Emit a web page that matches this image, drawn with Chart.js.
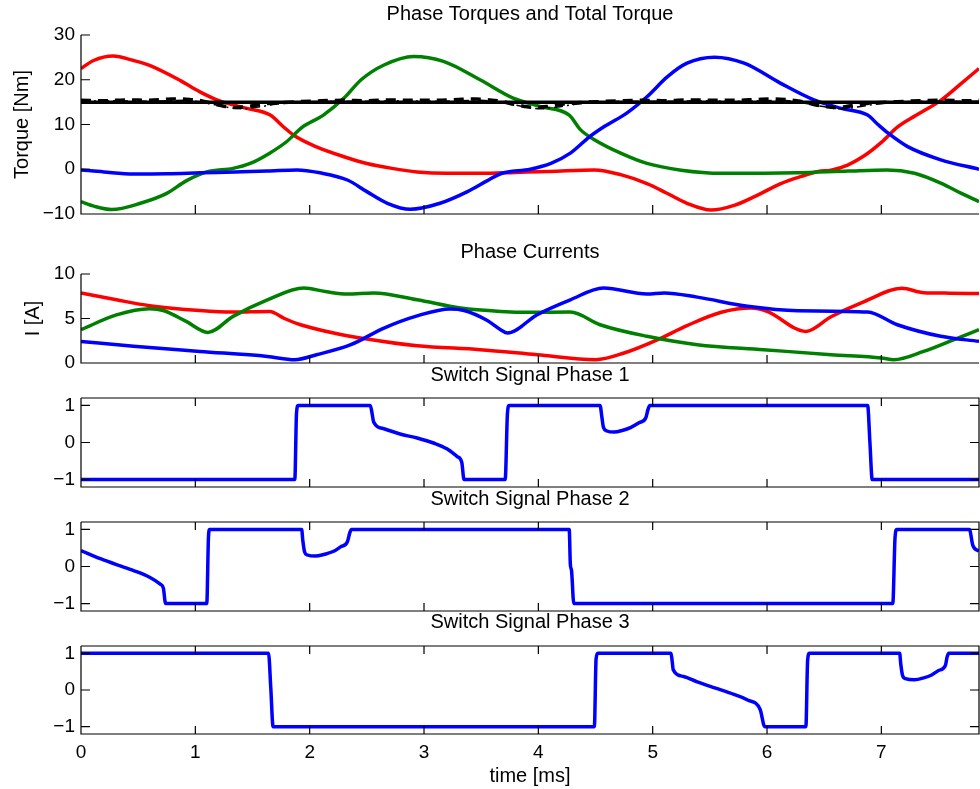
<!DOCTYPE html>
<html>
<head>
<meta charset="utf-8">
<title>Phase Torques, Currents and Switch Signals</title>
<script src="https://cdn.jsdelivr.net/npm/chart.js@4.4.1/dist/chart.umd.min.js"></script>
<style>
  html, body { margin: 0; padding: 0; background: #fff; }
  #fig { position: relative; width: 980px; height: 789px; background: #fff; overflow: hidden; }
  #fig canvas { position: absolute; left: 0; }
</style>
</head>
<body>
<div id="fig">
  <canvas id="cTorque"></canvas>
  <canvas id="cCurrent"></canvas>
  <canvas id="cSw1"></canvas>
  <canvas id="cSw2"></canvas>
  <canvas id="cSw3"></canvas>
</div>
<script>
// ---- time axis ----
const tMax = 7.854;
const xTicks = [0, 1, 2, 3, 4, 5, 6, 7];
const torqueTicks = [-10, 0, 10, 20, 30];
const currentTicks = [0, 5, 10];
const switchTicks = [-1, 0, 1];

// ---- phase torques [Nm] ----
const torqueRedT = [0, 0.11, 0.28, 0.46, 0.6, 0.87, 1.04, 1.2, 1.45, 1.655, 1.77, 1.86, 2.06, 2.30, 2.50, 2.72, 2.94, 3.2, 3.5, 3.8, 4.1, 4.49, 4.72, 4.95, 5.12, 5.30, 5.51, 5.72, 5.90, 6.12, 6.30, 6.45, 6.56, 6.71, 6.85, 7.0, 7.14, 7.30, 7.52, 7.70, 7.854];
const torqueRed  = [22.5, 24.3, 25.3, 24.3, 23.2, 19.8, 17.3, 15.4, 13.6, 12.1, 9.5, 7.6, 5.0, 2.8, 1.3, 0.2, -0.6, -0.9, -0.9, -0.7, -0.5, -0.15, -1.2, -3.2, -5.3, -7.6, -9.1, -8.0, -6.0, -3.2, -1.6, -0.5, -0.2, 1.0, 3.0, 6.0, 9.4, 12.0, 15.4, 19.2, 22.5];

const torqueGreenT = [0, 0.12, 0.27, 0.52, 0.75, 0.92, 1.1, 1.33, 1.48, 1.65, 1.8, 1.93, 2.12, 2.30, 2.45, 2.65, 2.91, 3.17, 3.49, 3.78, 4.02, 4.27, 4.37, 4.49, 4.72, 4.95, 5.25, 5.6, 5.98, 6.27, 6.71, 7.05, 7.29, 7.52, 7.70, 7.854];
const torqueGreen  = [-7.25, -8.3, -9.0, -7.6, -5.4, -2.6, -0.6, 0.2, 1.3, 3.6, 6.2, 9.3, 12.1, 15.9, 20.0, 23.3, 25.2, 24.1, 20.0, 15.9, 14.0, 12.1, 8.8, 6.6, 3.6, 1.3, -0.2, -0.9, -0.9, -0.8, -0.4, -0.15, -0.9, -3.1, -5.4, -7.25];

const torqueBlueT = [0, 0.2, 0.46, 0.75, 1.04, 1.35, 1.63, 1.89, 2.09, 2.33, 2.50, 2.68, 2.88, 3.14, 3.38, 3.55, 3.67, 3.93, 4.11, 4.28, 4.45, 4.58, 4.77, 4.95, 5.13, 5.30, 5.54, 5.80, 6.12, 6.41, 6.65, 6.88, 6.97, 7.06, 7.23, 7.52, 7.854];
const torqueBlue  = [-0.15, -0.6, -1.05, -1.0, -0.8, -0.6, -0.4, -0.15, -0.8, -2.4, -5.0, -7.6, -8.95, -7.6, -5.0, -2.6, -1.0, 0.0, 1.3, 3.6, 7.3, 9.6, 12.5, 16.2, 20.7, 23.7, 25.05, 23.7, 19.2, 15.5, 13.6, 12.1, 10.0, 8.05, 5.05, 2.1, 0.0];

// ---- total torque [Nm] ----
const torqueRefT = [0, 7.854];
const torqueRef  = [15, 15];

const totalDashT = [0, 0.2, 0.4, 0.6, 0.8, 0.95, 1.05, 1.15, 1.25, 1.35, 1.45, 1.6, 1.75, 1.9, 2.1, 2.3, 2.5, 2.7, 2.9, 3.1, 3.3, 3.45, 3.57, 3.67, 3.77, 3.87, 3.97, 4.07, 4.22, 4.37, 4.52, 4.72, 4.92, 5.12, 5.32, 5.52, 5.72, 5.92, 6.07, 6.19, 6.29, 6.39, 6.49, 6.59, 6.69, 6.84, 6.99, 7.14, 7.34, 7.54, 7.74, 7.854];
const totalDash  = [15.4, 15.3, 15.5, 15.4, 15.7, 15.6, 15.3, 14.7, 14.1, 13.8, 14.0, 14.6, 14.9, 15.1, 15.3, 15.4, 15.3, 15.5, 15.4, 15.4, 15.6, 15.7, 15.5, 15.2, 14.6, 14.1, 13.8, 14.0, 14.6, 14.9, 15.1, 15.3, 15.4, 15.3, 15.5, 15.4, 15.4, 15.6, 15.7, 15.5, 15.2, 14.6, 14.1, 13.8, 14.0, 14.6, 14.9, 15.1, 15.3, 15.4, 15.3, 15.4];

const totalDotT = [0, 0.3, 0.6, 0.9, 1.1, 1.25, 1.4, 1.55, 1.7, 1.9, 2.2, 2.5, 2.8, 3.1, 3.5, 3.7, 3.87, 4.02, 4.17, 4.32, 4.52, 4.82, 5.12, 5.42, 5.72, 6.12, 6.32, 6.49, 6.64, 6.79, 6.94, 7.14, 7.44, 7.854];
const totalDot  = [15.2, 15.3, 15.2, 15.4, 14.8, 14.0, 13.5, 13.9, 14.5, 15.0, 15.2, 15.2, 15.3, 15.2, 15.4, 14.8, 14.0, 13.5, 13.9, 14.5, 15.0, 15.2, 15.2, 15.3, 15.2, 15.4, 14.8, 14.0, 13.5, 13.9, 14.5, 15.0, 15.2, 15.2];

// ---- phase currents [A] ----
const currentRedT = [0, 0.31, 0.6, 1.04, 1.33, 1.65, 1.78, 1.92, 2.21, 2.5, 2.94, 3.49, 3.99, 4.5, 4.75, 5.04, 5.3, 5.6, 5.86, 6.0, 6.34, 6.56, 6.85, 7.18, 7.37, 7.6, 7.854];
const currentRed  = [7.87, 7.1, 6.44, 5.9, 5.73, 5.8, 5.0, 4.3, 3.37, 2.7, 1.94, 1.5, 0.93, 0.37, 1.12, 2.6, 4.2, 5.7, 6.18, 5.8, 3.55, 5.2, 6.9, 8.4, 7.9, 7.85, 7.8];

const currentGreenT = [0, 0.31, 0.6, 0.72, 0.92, 1.11, 1.33, 1.63, 1.95, 2.15, 2.33, 2.56, 2.94, 3.32, 3.67, 3.93, 4.28, 4.54, 4.95, 5.39, 5.97, 6.56, 7.0, 7.11, 7.37, 7.63, 7.854];
const currentGreen  = [3.74, 5.4, 6.1, 5.9, 4.67, 3.44, 5.24, 7.1, 8.43, 8.0, 7.75, 7.87, 7.1, 6.18, 5.8, 5.7, 5.73, 4.3, 3.0, 2.06, 1.5, 0.93, 0.56, 0.37, 1.3, 2.6, 3.74];

const currentBlueT = [0, 0.46, 1.04, 1.63, 1.87, 2.06, 2.36, 2.65, 2.94, 3.23, 3.35, 3.55, 3.67, 3.73, 3.99, 4.28, 4.57, 4.95, 5.1, 5.39, 5.83, 6.27, 6.88, 7.14, 7.52, 7.854];
const currentBlue  = [2.43, 1.87, 1.3, 0.74, 0.37, 0.93, 2.06, 3.93, 5.3, 6.07, 5.9, 4.8, 3.74, 3.37, 5.43, 7.1, 8.43, 7.75, 7.87, 7.4, 6.37, 5.87, 5.73, 4.3, 3.0, 2.43];

// ---- switch signals ----
const switch1T = [0, 1.87, 1.885, 1.9, 2.53, 2.545, 2.56, 2.65, 2.79, 2.94, 3.09, 3.2, 3.29, 3.33, 3.35, 3.71, 3.73, 3.745, 4.54, 4.555, 4.57, 4.6, 4.66, 4.74, 4.81, 4.88, 4.94, 4.96, 4.975, 6.88, 6.9, 6.92, 7.854];
const switch1  = [-1, -1, 0.8, 1, 1, 0.8, 0.55, 0.37, 0.23, 0.12, -0.02, -0.17, -0.38, -0.53, -1, -1, 0.8, 1, 1, 0.7, 0.4, 0.31, 0.28, 0.33, 0.41, 0.53, 0.67, 0.9, 1, 1, 0.0, -1, -1];

const switch2T = [0, 0.17, 0.31, 0.46, 0.6, 0.69, 0.72, 0.74, 1.10, 1.115, 1.125, 1.93, 1.94, 1.955, 1.98, 2.05, 2.13, 2.21, 2.27, 2.33, 2.35, 2.365, 4.27, 4.28, 4.29, 4.31, 7.10, 7.12, 7.135, 7.77, 7.80, 7.854];
const switch2  = [0.43, 0.21, 0.05, -0.11, -0.29, -0.47, -0.58, -1, -1, 0.8, 1, 1, 0.7, 0.4, 0.31, 0.28, 0.33, 0.41, 0.53, 0.67, 0.9, 1, 1, 0.05, -0.1, -1, -1, 0.8, 1, 1, 0.57, 0.41];

const switch3T = [0, 1.64, 1.66, 1.68, 4.49, 4.505, 4.52, 5.16, 5.17, 5.18, 5.27, 5.39, 5.55, 5.71, 5.83, 5.94, 5.98, 6.34, 6.355, 6.37, 7.16, 7.17, 7.185, 7.21, 7.29, 7.37, 7.44, 7.50, 7.56, 7.575, 7.59, 7.854];
const switch3  = [1, 1, 0.05, -1, -1, 0.85, 1, 1, 0.8, 0.55, 0.37, 0.22, 0.05, -0.12, -0.27, -0.53, -1, -1, 0.8, 1, 1, 0.7, 0.4, 0.31, 0.28, 0.33, 0.41, 0.53, 0.67, 0.9, 1, 1];

// ---- styling ----
const RED = '#ff0000', GREEN = '#008000', BLUE = '#0000ff', BLACK = '#000000';
Chart.defaults.font.family = "'Liberation Sans', Arial, Helvetica, sans-serif";
Chart.defaults.font.size = 19;
Chart.defaults.color = '#000';

const pts = (ts, vs) => ts.map((t, i) => ({ x: t, y: vs[i] }));
const fmtTick = v => (v < 0 ? '\u2212' + Math.abs(v) : String(v));

function curve(ts, vs, color, extra) {
  return Object.assign({
    data: pts(ts, vs), borderColor: color, backgroundColor: color,
    borderWidth: 3.5, pointRadius: 0, fill: false,
    cubicInterpolationMode: 'monotone'
  }, extra || {});
}

// axis lines, optional box, and inward tick marks (MATLAB style)
const axesFrame = {
  id: 'axesFrame',
  afterDraw(chart, args, opts) {
    const { ctx, chartArea: a, scales } = chart;
    ctx.save();
    ctx.strokeStyle = '#000';
    ctx.lineWidth = 1.2;
    ctx.beginPath();
    ctx.moveTo(a.left, a.top); ctx.lineTo(a.left, a.bottom); ctx.lineTo(a.right, a.bottom);
    if (opts.box) { ctx.lineTo(a.right, a.top); ctx.lineTo(a.left, a.top); }
    scales.x.ticks.forEach(t => {
      const px = scales.x.getPixelForValue(t.value);
      ctx.moveTo(px, a.bottom); ctx.lineTo(px, a.bottom - opts.xTick);
      if (opts.box) { ctx.moveTo(px, a.top); ctx.lineTo(px, a.top + opts.xTick); }
    });
    scales.y.ticks.forEach(t => {
      const py = scales.y.getPixelForValue(t.value);
      ctx.moveTo(a.left, py); ctx.lineTo(a.left + opts.yTick, py);
      if (opts.box) { ctx.moveTo(a.right, py); ctx.lineTo(a.right - opts.yTick, py); }
    });
    ctx.stroke();
    ctx.restore();
  }
};

function panel(id, g, datasets, o) {
  const cv = document.getElementById(id);
  cv.width = 980; cv.height = g.height; cv.style.top = g.top + 'px';
  return new Chart(cv, {
    type: 'line',
    data: { datasets },
    options: {
      responsive: false, animation: false, events: [], devicePixelRatio: 1,
      layout: { padding: { left: 0, right: 1, top: 0, bottom: g.padBottom } },
      plugins: {
        legend: { display: false }, tooltip: { enabled: false },
        title: { display: true, text: o.title, fullSize: false, color: '#000',
          font: { size: 20, weight: 'normal' }, padding: { top: 0, bottom: g.titleGap } },
        axesFrame: { box: o.box, xTick: o.xTick, yTick: 9 }
      },
      scales: {
        x: {
          type: 'linear', min: 0, max: tMax,
          afterBuildTicks: s => { s.ticks = xTicks.map(v => ({ value: v })); },
          afterFit: s => { s.height = g.xHeight; s.paddingLeft = 0; s.paddingRight = 0; },
          grid: { display: false, drawTicks: false }, border: { display: false },
          ticks: { display: !!o.xLabels, padding: 7, maxRotation: 0, autoSkip: false, callback: v => fmtTick(v) },
          title: o.xTitle ? { display: true, text: o.xTitle, font: { size: 20 }, padding: { top: 0, bottom: 1 } } : { display: false }
        },
        y: {
          type: 'linear', min: o.yMin, max: o.yMax,
          afterBuildTicks: s => { s.ticks = o.yTicks.map(v => ({ value: v })); },
          afterFit: s => { s.width = 81; s.paddingTop = 0; s.paddingBottom = 0; },
          grid: { display: false, drawTicks: false }, border: { display: false },
          ticks: { padding: 6, autoSkip: false, callback: v => fmtTick(v) },
          title: o.yTitle ? { display: true, text: o.yTitle, font: { size: 20 }, padding: { top: o.yTitlePad, bottom: 0 } } : { display: false }
        }
      }
    },
    plugins: [axesFrame]
  });
}

// Phase torques and total torque
panel('cTorque', { top: 2, height: 224, titleGap: 9, padBottom: 12, xHeight: 0 }, [
  curve(torqueRefT, torqueRef, BLACK, { cubicInterpolationMode: 'default', tension: 0 }),
  curve(totalDotT, totalDot, BLACK, { borderWidth: 1.5, borderDash: [9, 4, 2, 4] }),
  curve(totalDashT, totalDash, BLACK, { borderWidth: 3.5, borderDash: [10, 7] }),
  curve(torqueBlueT, torqueBlue, BLUE),
  curve(torqueGreenT, torqueGreen, GREEN),
  curve(torqueRedT, torqueRed, RED)
], { title: 'Phase Torques and Total Torque', yMin: -10, yMax: 30, yTicks: torqueTicks,
     yTitle: 'Torque [Nm]', yTitlePad: 10, box: false, xTick: 9 });

// Phase currents
panel('cCurrent', { top: 240, height: 135, titleGap: 10, padBottom: 12, xHeight: 0 }, [
  curve(currentBlueT, currentBlue, BLUE),
  curve(currentGreenT, currentGreen, GREEN),
  curve(currentRedT, currentRed, RED)
], { title: 'Phase Currents', yMin: 0, yMax: 10, yTicks: currentTicks,
     yTitle: 'I [A]', yTitlePad: 21, box: false, xTick: 8 });

// Switch signals
panel('cSw1', { top: 363, height: 127, titleGap: 11, padBottom: 3, xHeight: 0 }, [
  curve(switch1T, switch1, BLUE)
], { title: 'Switch Signal Phase 1', yMin: -1.2, yMax: 1.2, yTicks: switchTicks, box: true, xTick: 8 });

panel('cSw2', { top: 487, height: 127, titleGap: 11, padBottom: 3, xHeight: 0 }, [
  curve(switch2T, switch2, BLUE)
], { title: 'Switch Signal Phase 2', yMin: -1.2, yMax: 1.2, yTicks: switchTicks, box: true, xTick: 8 });

panel('cSw3', { top: 610, height: 179, titleGap: 12, padBottom: 0, xHeight: 55 }, [
  curve(switch3T, switch3, BLUE)
], { title: 'Switch Signal Phase 3', yMin: -1.2, yMax: 1.2, yTicks: switchTicks, box: true, xTick: 8,
     xLabels: true, xTitle: 'time [ms]' });
</script>
</body>
</html>
